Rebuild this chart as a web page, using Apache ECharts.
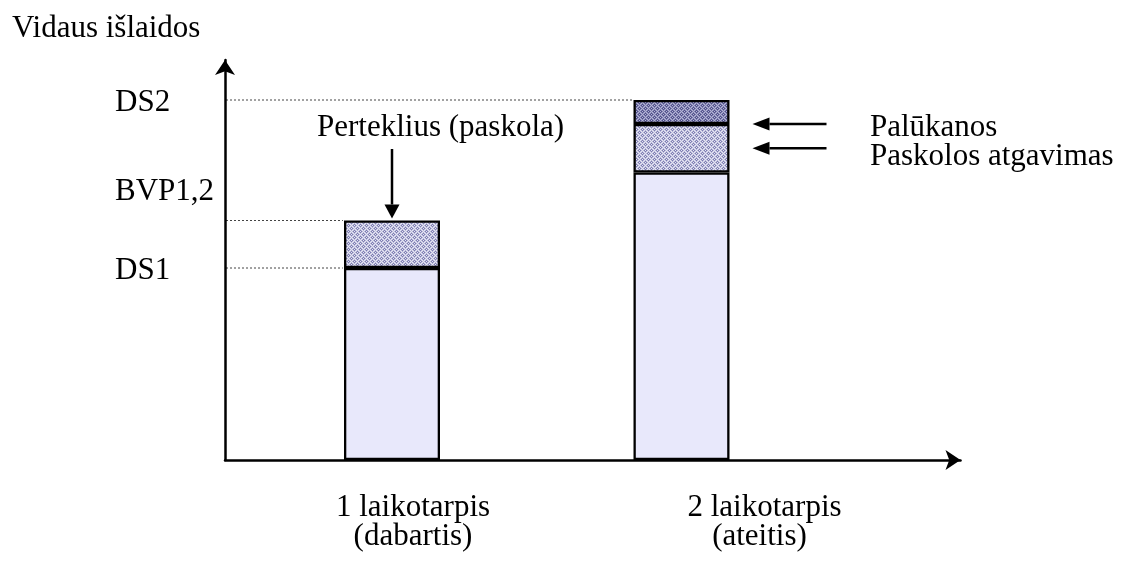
<!DOCTYPE html>
<html>
<head>
<meta charset="utf-8">
<script src="https://cdn.jsdelivr.net/npm/echarts@6/dist/echarts.min.js"></script>
<style>
  html, body { margin: 0; padding: 0; background: #ffffff; }
  #chart { width: 1124px; height: 566px; }
</style>
</head>
<body>
<div id="chart"></div>
<script>
// Periods and their notes
const periods = ['1 laikotarpis', '2 laikotarpis'];
const periodNotes = ['(dabartis)', '(ateitis)'];

// Stacked spending components per period (abstract units)
const domesticSpending = [192, 287.5];
const surplusLoan = [47.5, 0];
const loanRepayment = [0, 48.5];
const interest = [0, 24];

// Text
const axisTitle = 'Vidaus išlaidos';
const levelNames = ['DS1', 'BVP1,2', 'DS2'];
const surplusLabel = 'Perteklius (paskola)';
const interestLabel = 'Palūkanos';
const repaymentLabel = 'Paskolos atgavimas';

const yMax = 400;

const FONT = '"Liberation Serif", "Times New Roman", serif';
const FS = 31;
const BAR_W = 96;
const BORDER = 2.3;

// Small woven texture used for the stacked segments
function makeTile(bg, ink, mid) {
  const c = document.createElement('canvas');
  c.width = 6; c.height = 6;
  const g = c.getContext('2d');
  g.fillStyle = bg; g.fillRect(0, 0, 6, 6);
  for (let y = 0; y < 6; y++) {
    for (let x = 0; x < 6; x++) {
      if (x % 3 === 0 && y % 3 === 0) { g.fillStyle = bg; }
      else if (x % 3 === 0 || y % 3 === 0) { g.fillStyle = (x + y) % 2 === 0 ? ink : mid; }
      else if ((x + y) % 2 === 1) { g.fillStyle = mid; }
      else continue;
      g.fillRect(x, y, 1, 1);
    }
  }
  return c;
}
const lightPattern = { image: makeTile('#e6e6f4', '#7c7cb0', '#b8b8d8'), repeat: 'repeat' };
const darkPattern = { image: makeTile('#b4b4d6', '#4e4e88', '#7e7eae'), repeat: 'repeat' };

const gap = v => (v === 0 ? '-' : v);
const segStyle = fill => ({ color: fill, borderColor: '#000', borderWidth: BORDER });

const option = {
  animation: false,
  backgroundColor: '#ffffff',
  grid: [
    { left: 225, right: 163.5, top: 60, bottom: 106 },
    { left: 247.25, right: 297.75, top: 60, bottom: 106 }
  ],
  xAxis: [
    {
      gridIndex: 0, type: 'value', min: 0, max: 1,
      axisLine: { show: true, symbol: ['none', 'arrow'], symbolSize: [15, 15],
        lineStyle: { color: '#000', width: 2.5 } },
      axisTick: { show: false }, axisLabel: { show: false }, splitLine: { show: false }
    },
    { gridIndex: 1, type: 'category', data: periods, show: false }
  ],
  yAxis: [
    {
      gridIndex: 0, type: 'value', min: 0, max: yMax,
      axisLine: { show: true, symbol: ['none', 'arrow'], symbolSize: [15, 15],
        lineStyle: { color: '#000', width: 2.5 } },
      axisTick: { show: false }, axisLabel: { show: false }, splitLine: { show: false }
    },
    { gridIndex: 1, type: 'value', min: 0, max: yMax, show: false }
  ],
  series: [
    { name: axisTitle, type: 'bar', xAxisIndex: 1, yAxisIndex: 1, stack: 'spend',
      barWidth: BAR_W, data: domesticSpending.map(gap), itemStyle: segStyle('#e8e8fb') },
    { name: surplusLabel, type: 'bar', xAxisIndex: 1, yAxisIndex: 1, stack: 'spend',
      barWidth: BAR_W, data: surplusLoan.map(gap), itemStyle: segStyle(lightPattern) },
    { name: repaymentLabel, type: 'bar', xAxisIndex: 1, yAxisIndex: 1, stack: 'spend',
      barWidth: BAR_W, data: loanRepayment.map(gap), itemStyle: segStyle(lightPattern) },
    { name: interestLabel, type: 'bar', xAxisIndex: 1, yAxisIndex: 1, stack: 'spend',
      barWidth: BAR_W, data: interest.map(gap), itemStyle: segStyle(darkPattern) }
  ]
};

const chart = echarts.init(document.getElementById('chart'), null, { renderer: 'canvas' });
chart.setOption(option);

// Annotation layer positioned through the chart's own scales
const bar = (i, v) => chart.convertToPixel({ xAxisIndex: 1, yAxisIndex: 1 }, [i, v]);
const origin = chart.convertToPixel({ xAxisIndex: 0, yAxisIndex: 0 }, [0, 0]);
const half = BAR_W / 2 + BORDER / 2;

const txt = (text, x, y, align) => ({
  type: 'text', x, y, silent: true,
  style: { text, fill: '#000', font: FS + 'px ' + FONT, align: align || 'left', verticalAlign: 'middle' }
});
const dotted = (x1, y, x2) => ({
  type: 'line', silent: true,
  shape: { x1, y1: y, x2, y2: y },
  style: { stroke: '#444', lineWidth: 1, lineDash: [2, 2] }
});
function arrow(x1, y1, x2, y2, headLen, headW) {
  const ang = Math.atan2(y2 - y1, x2 - x1);
  const bx = x2 - headLen * Math.cos(ang), by = y2 - headLen * Math.sin(ang);
  const nx = -Math.sin(ang) * headW / 2, ny = Math.cos(ang) * headW / 2;
  return [
    { type: 'line', silent: true, shape: { x1, y1, x2: bx, y2: by },
      style: { stroke: '#000', lineWidth: 2.5 } },
    { type: 'polygon', silent: true,
      shape: { points: [[bx + nx, by + ny], [bx - nx, by - ny], [x2, y2]] },
      style: { fill: '#000' } }
  ];
}

const ds1 = bar(0, domesticSpending[0]);
const bvp = bar(0, domesticSpending[0] + surplusLoan[0]);
const ds2 = bar(1, domesticSpending[1] + loanRepayment[1] + interest[1]);
const repayTop = bar(1, domesticSpending[1] + loanRepayment[1]);
const repayMid = bar(1, domesticSpending[1] + loanRepayment[1] / 2);
const c1 = bar(0, 0), c2 = bar(1, 0);
const ax = origin[0] + 1;
const levelX = 115;

const elements = [
  dotted(ax, ds1[1], ds1[0] - half),
  dotted(ax, bvp[1], bvp[0] - half),
  dotted(ax, ds2[1], ds2[0] - half),
  txt(axisTitle, 12, 28.5),
  txt(levelNames[0], levelX, ds1[1] + 3),
  txt(levelNames[1], levelX, bvp[1] - 29),
  txt(levelNames[2], levelX, ds2[1] + 3),
  txt(surplusLabel, 317, 128),
  txt(interestLabel, 870, 128),
  txt(repaymentLabel, 870, 156.5),
  txt(periods[0], c1[0] + 21, 508, 'center'),
  txt(periodNotes[0], c1[0] + 21, 537, 'center'),
  txt(periods[1], c2[0] + 83, 508, 'center'),
  txt(periodNotes[1], c2[0] + 78, 537, 'center')
]
  .concat(arrow(bvp[0], 149, bvp[0], bvp[1] - 2, 14, 15))
  .concat(arrow(c2[0] + 145, repayTop[1], c2[0] + 71, repayTop[1], 17, 13))
  .concat(arrow(c2[0] + 145, repayMid[1], c2[0] + 71, repayMid[1], 17, 13));

chart.setOption({ graphic: { elements } });
</script>
</body>
</html>
